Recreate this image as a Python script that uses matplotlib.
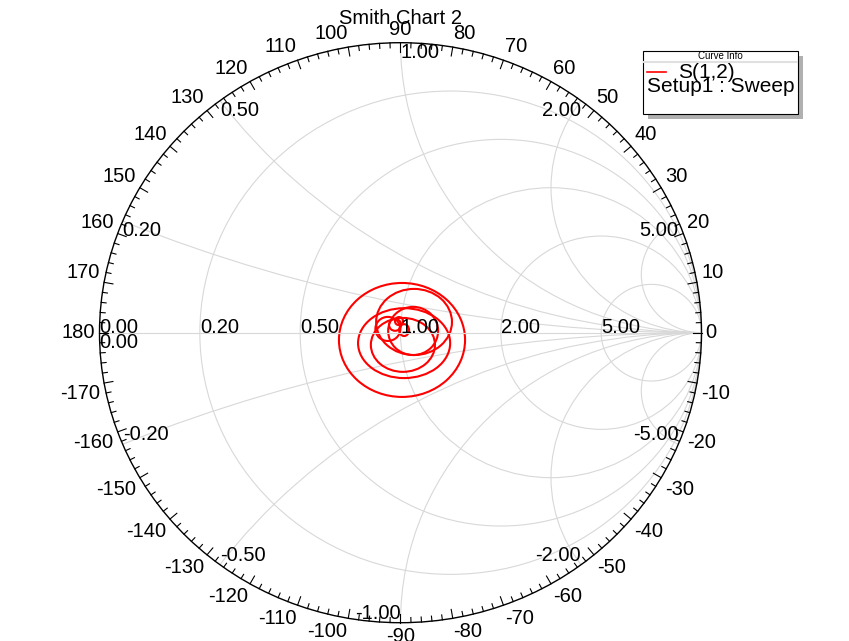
import numpy as np
import matplotlib
matplotlib.use('Agg')
import matplotlib.pyplot as plt
from matplotlib.patches import Circle, Ellipse, Rectangle
from matplotlib.lines import Line2D

plt.rcParams['font.family'] = ['Liberation Sans', 'DejaVu Sans']

# grid values of the Smith chart
r_vals = [0.0, 0.2, 0.5, 1.0, 2.0, 5.0]
x_vals = [0.0, 0.2, 0.5, 1.0, 2.0, 5.0, -0.2, -0.5, -1.0, -2.0, -5.0]
angle_vals = list(range(-170, 181, 10))

# S(1,2) trace, read as loops: centre (re, im) and width / height in gamma units
loop_re = [0.005, 0.045, 0.012, 0.008, 0.042, -0.042, -0.005, 0.012, -0.018]
loop_im = [-0.025, 0.037, -0.036, -0.042, 0.006, 0.013, 0.040, 0.009, 0.027]
loop_w = [0.419, 0.252, 0.306, 0.213, 0.166, 0.083, 0.027, 0.033, 0.040]
loop_h = [0.393, 0.228, 0.241, 0.186, 0.166, 0.083, 0.028, 0.041, 0.041]

W, H = 849, 641
cx, cy, rx, ry = 400.5, 332.7, 301.0, 290.0   # chart centre / radii in pixels

fig = plt.figure(figsize=(W / 100, H / 100), dpi=100)
ax = fig.add_axes([0, 0, 1, 1])
ax.set_xlim(-cx / rx, (W - cx) / rx)
ax.set_ylim((cy - H) / ry, cy / ry)
ax.axis('off')

grid_col = '#d8d8d8'
unit = Circle((0, 0), 1, transform=ax.transData, fill=False, lw=0)
ax.add_patch(unit)

# resistance circles
for r in r_vals[1:]:
    ax.add_patch(Circle((r / (1 + r), 0), 1 / (1 + r), fill=False, ec=grid_col, lw=0.8))
# reactance arcs
for x in x_vals[1:]:
    c = Circle((1, 1 / x), 1 / abs(x), fill=False, ec=grid_col, lw=0.8)
    ax.add_patch(c)
    c.set_clip_path(unit)
ax.plot([-1, 1], [0, 0], color=grid_col, lw=0.8)

# outer circle
ax.add_patch(Circle((0, 0), 1, fill=False, ec='black', lw=1.0))

# angle ticks
for deg in range(-180, 180, 2):
    t = np.radians(deg)
    L = 9 if deg % 10 == 0 else 5
    ax.plot([np.cos(t), np.cos(t) * (1 - L / rx)], [np.sin(t), np.sin(t) * (1 - L / ry)],
            color='black', lw=0.8)

fs = 14.5
for deg in angle_vals:
    t = np.radians(deg)
    c, s = np.cos(t), np.sin(t)
    ha = 'left' if c > 0.1 else ('right' if c < -0.1 else 'center')
    va = 'bottom' if s > 0.1 else ('top' if s < -0.1 else 'center')
    ax.annotate(str(deg), (c, s), xytext=(3 * c, 3 * s), textcoords='offset points',
                ha=ha, va=va, fontsize=fs)

# resistance labels on the real axis
for r in r_vals:
    g = (r - 1) / (r + 1)
    ax.text(g, 0, '%.2f' % r, ha='left', va='baseline', fontsize=fs)

# reactance labels on the outer circle
for x in x_vals:
    g = (1j * x - 1) / (1j * x + 1)
    re = round(g.real, 6)
    if x >= 0:
        ha = 'left' if re <= 0 else 'right'
        va = 'top'
    else:
        ha = 'left' if re < 0 else 'right'
        va = 'bottom'
    ax.text(g.real, g.imag, '%.2f' % x, ha=ha, va=va, fontsize=fs)

# S(1,2) trace
for re, im, w, h in zip(loop_re, loop_im, loop_w, loop_h):
    ax.add_patch(Ellipse((re, im), w, h, fill=False, ec='#ff0000', lw=1.5))

fig.text(cx / W, 1 - 18 / H, 'Smith Chart 2', ha='center', va='center', fontsize=fs)

# legend box
def fx(px):
    return px / W

def fy(py):
    return 1 - py / H

fig.patches.append(Rectangle((fx(648), fy(119)), fx(155), 63 / H, transform=fig.transFigure,
                             fc='#b0b0b0', ec='none'))
fig.patches.append(Rectangle((fx(643), fy(114)), fx(155), 63 / H, transform=fig.transFigure,
                             fc='white', ec='black', lw=0.8))
fig.lines.append(Line2D([fx(644), fx(797)], [fy(62), fy(62)], transform=fig.transFigure,
                        color='#e0e0e0', lw=1.5))
fig.text(fx(720), fy(56), 'Curve Info', ha='center', va='center', fontsize=7)
fig.lines.append(Line2D([fx(647), fx(666)], [fy(72), fy(72)], transform=fig.transFigure,
                        color='#ff0000', lw=1.2))
fig.text(fx(678), fy(72), 'S(1,2)', ha='left', va='center', fontsize=15)
fig.text(fx(647), fy(87), 'Setup1 : Sweep', ha='left', va='center', fontsize=15)

fig.savefig('out.png', dpi=100)
